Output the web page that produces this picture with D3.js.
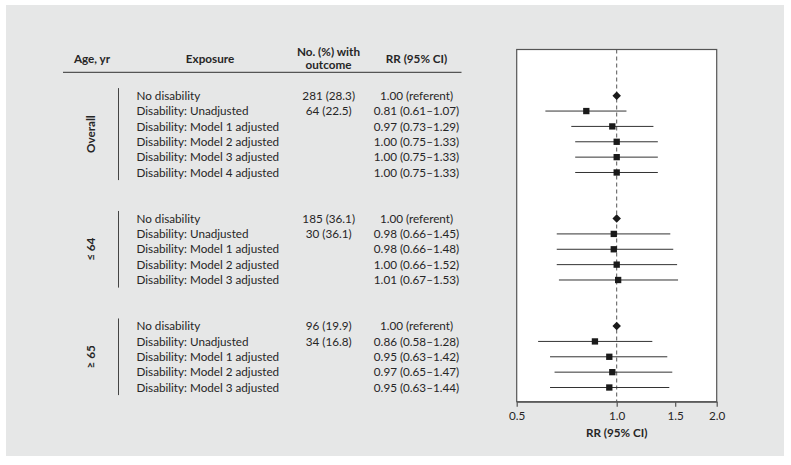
<!DOCTYPE html>
<html>
<head>
<meta charset="utf-8">
<script src="https://cdn.jsdelivr.net/npm/d3@7"></script>
<style>
  html, body { margin: 0; padding: 0; background: #fff; }
  svg { display: block; }
  text { font-family: Lato, "Noto Sans", sans-serif; fill: #262626; }
</style>
</head>
<body>
<script>
// ---- Data ----
const groups = ["Overall", "≤ 64", "≥ 65"];
const groupOf = [0, 0, 0, 0, 0, 0, 1, 1, 1, 1, 1, 2, 2, 2, 2, 2];
const rowSlot = [0, 1, 2, 3, 4, 5, 8, 9, 10, 11, 12, 15, 16, 17, 18, 19];
const exposures = [
  "No disability", "Disability: Unadjusted", "Disability: Model 1 adjusted",
  "Disability: Model 2 adjusted", "Disability: Model 3 adjusted", "Disability: Model 4 adjusted",
  "No disability", "Disability: Unadjusted", "Disability: Model 1 adjusted",
  "Disability: Model 2 adjusted", "Disability: Model 3 adjusted",
  "No disability", "Disability: Unadjusted", "Disability: Model 1 adjusted",
  "Disability: Model 2 adjusted", "Disability: Model 3 adjusted"
];
const counts = ["281 (28.3)", "64 (22.5)", "", "", "", "",
                "185 (36.1)", "30 (36.1)", "", "", "",
                "96 (19.9)", "34 (16.8)", "", "", ""];
const rr    = [1.00, 0.81, 0.97, 1.00, 1.00, 1.00, 1.00, 0.98, 0.98, 1.00, 1.01, 1.00, 0.86, 0.95, 0.97, 0.95];
const lower = [null, 0.61, 0.73, 0.75, 0.75, 0.75, null, 0.66, 0.66, 0.66, 0.67, null, 0.58, 0.63, 0.65, 0.63];
const upper = [null, 1.07, 1.29, 1.33, 1.33, 1.33, null, 1.45, 1.48, 1.52, 1.53, null, 1.28, 1.42, 1.47, 1.44];
const referent = [true, false, false, false, false, false, true, false, false, false, false, true, false, false, false, false];
const tickValues = [0.5, 1.0, 1.5, 2.0];
const tickLabels = ["0.5", "1.0", "1.5", "2.0"];
const headers = ["Age, yr", "Exposure", "No. (%) with", "outcome", "RR (95% CI)"];
const axisTitle = "RR (95% CI)";

// ---- Layout ----
const W = 791, H = 465;
const svg = d3.select("body").append("svg").attr("width", W).attr("height", H);

svg.append("rect").attr("x", 6).attr("y", 5).attr("width", 778).attr("height", 451).attr("fill", "#e6e7e7");

const y = d3.scaleLinear().domain([0, 19]).range([95.7, 387.5]);
const x = d3.scaleLog().domain([0.5, 2]).range([516.7, 716.7]);
const plotTop = 49.5, plotBottom = 401.7;
const fs = 11.7;

// header
const hdr = svg.append("g").attr("font-weight", "bold").attr("font-size", fs).attr("text-anchor", "middle");
hdr.append("text").attr("x", 92).attr("y", 59).attr("dy", "0.35em").text(headers[0]);
hdr.append("text").attr("x", 210).attr("y", 59).attr("dy", "0.35em").text(headers[1]);
hdr.append("text").attr("x", 328.5).attr("y", 51.7).attr("dy", "0.35em").text(headers[2]);
hdr.append("text").attr("x", 328.5).attr("y", 65.2).attr("dy", "0.35em").text(headers[3]);
hdr.append("text").attr("x", 416.5).attr("y", 59).attr("dy", "0.35em").text(headers[4]);
svg.append("line").attr("x1", 63).attr("x2", 461.5).attr("y1", 72.3).attr("y2", 72.3)
  .attr("stroke", "#555").attr("stroke-width", 1.3);

// group labels & lines
groups.forEach((g, gi) => {
  const idx = rowSlot.filter((s, i) => groupOf[i] === gi);
  const y0 = y(d3.min(idx)) - 7.6, y1 = y(d3.max(idx)) + 7.6;
  svg.append("line").attr("x1", 118.5).attr("x2", 118.5).attr("y1", y0).attr("y2", y1)
    .attr("stroke", "#444").attr("stroke-width", 1);
  svg.append("text").attr("transform", `translate(91,${(y0 + y1) / 2}) rotate(-90)`)
    .attr("text-anchor", "middle").attr("dy", "0.35em")
    .attr("font-weight", "bold").attr("font-size", fs).text(g);
});

// table rows
const rows = svg.append("g").attr("font-size", fs);
exposures.forEach((e, i) => {
  const yy = y(rowSlot[i]);
  rows.append("text").attr("x", 136.5).attr("y", yy).attr("dy", "0.35em").text(e);
  if (counts[i]) rows.append("text").attr("x", 328.7).attr("y", yy).attr("dy", "0.35em")
    .attr("text-anchor", "middle").text(counts[i]);
  const rrText = referent[i] ? `${rr[i].toFixed(2)} (referent)`
    : `${rr[i].toFixed(2)} (${lower[i].toFixed(2)}–${upper[i].toFixed(2)})`;
  rows.append("text").attr("x", 416.5).attr("y", yy).attr("dy", "0.35em")
    .attr("text-anchor", "middle").text(rrText);
});

// plot box
svg.append("rect").attr("x", x(0.5)).attr("y", plotTop)
  .attr("width", x(2) - x(0.5)).attr("height", plotBottom - plotTop)
  .attr("fill", "#fff").attr("stroke", "#555").attr("stroke-width", 1.2);

// reference line
svg.append("line").attr("x1", x(1)).attr("x2", x(1)).attr("y1", plotTop).attr("y2", plotBottom)
  .attr("stroke", "#555").attr("stroke-width", 1).attr("stroke-dasharray", "4,3");

// CIs
const marks = svg.append("g");
rr.forEach((v, i) => {
  const yy = y(rowSlot[i]);
  if (lower[i] != null) {
    marks.append("line").attr("x1", x(lower[i])).attr("x2", x(upper[i]))
      .attr("y1", yy).attr("y2", yy).attr("stroke", "#333").attr("stroke-width", 1);
  }
  const sym = referent[i] ? d3.symbol(d3.symbolDiamond2, 46) : d3.symbol(d3.symbolSquare, 40);
  marks.append("path").attr("d", sym()).attr("transform", `translate(${x(v)},${yy})`)
    .attr("fill", "#1a1a1a");
});

// axis
const axis = d3.axisBottom(x).tickValues(tickValues).tickFormat((d, i) => tickLabels[i])
  .tickSize(5).tickSizeOuter(0).tickPadding(5);
const ag = svg.append("g").attr("transform", `translate(0,${plotBottom})`).call(axis);
ag.select(".domain").attr("stroke", "#555").attr("stroke-width", 1.2);
ag.selectAll(".tick line").attr("stroke", "#555").attr("stroke-width", 1.2);
ag.selectAll(".tick text").attr("font-size", fs).attr("font-family", "Lato, 'Noto Sans', sans-serif").attr("fill", "#262626");

svg.append("text").attr("x", x(1)).attr("y", 433).attr("dy", "0.35em").attr("text-anchor", "middle")
  .attr("font-weight", "bold").attr("font-size", fs).text(axisTitle);
</script>
</body>
</html>
